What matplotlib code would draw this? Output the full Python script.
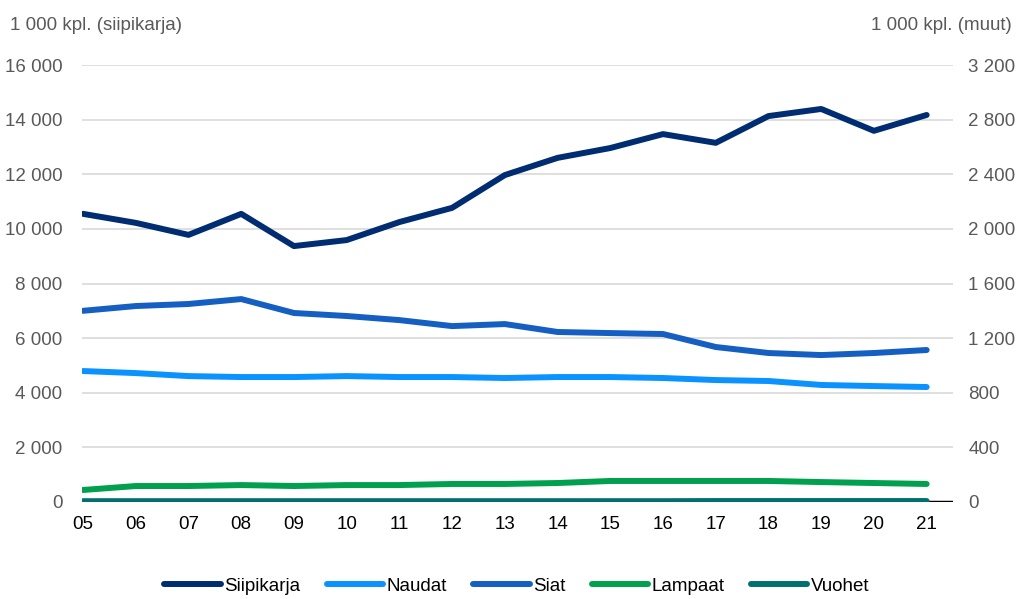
import matplotlib.pyplot as plt
from matplotlib.ticker import FuncFormatter

plt.rcParams['font.family'] = ['Liberation Sans Narrow', 'Liberation Sans', 'DejaVu Sans']

years = ['05', '06', '07', '08', '09', '10', '11', '12', '13', '14',
         '15', '16', '17', '18', '19', '20', '21']

# 1 000 kpl, vasen akseli
siipikarja = [10550, 10220, 9780, 10550, 9370, 9590, 10250, 10770, 11970,
              12600, 12960, 13470, 13150, 14130, 14390, 13590, 14170]

# 1 000 kpl, oikea akseli
naudat = [959, 944, 922, 915, 915, 922, 915, 915, 908, 915, 915, 908, 893,
          886, 857, 849, 842]
siat = [1400, 1435, 1450, 1486, 1384, 1362, 1332, 1288, 1303, 1245, 1237,
        1230, 1135, 1091, 1076, 1091, 1113]
lampaat = [88, 117, 117, 124, 117, 124, 124, 132, 132, 139, 154, 154, 154,
           154, 146, 139, 132]
vuohet = [6, 6, 6, 6, 6, 6, 6, 6, 6, 6, 6, 6, 7, 7, 7, 7, 7]

colors = {
    'Siipikarja': '#002D72',
    'Naudat': '#0A93FF',
    'Siat': '#155FC3',
    'Lampaat': '#00A04E',
    'Vuohet': '#00706E',
}

def thousands(v, pos):
    return f'{int(v):,}'.replace(',', ' ')

fig = plt.figure(figsize=(10.19, 5.99), dpi=100)
ax = fig.add_axes([82 / 1019, 1 - 502 / 599, (953 - 82) / 1019, (502 - 65) / 599])
ax2 = ax.twinx()
ax2.set_zorder(ax.get_zorder() + 1)
ax2.patch.set_visible(False)

x = list(range(len(years)))
lw = 4.3
ax.axhline(0, color='black', lw=2.5, zorder=1)
ax.plot(x, siipikarja, color=colors['Siipikarja'], lw=lw, solid_capstyle='round',
        label='Siipikarja', zorder=5)
ax2.plot(x, naudat, color=colors['Naudat'], lw=lw, solid_capstyle='round', label='Naudat')
ax2.plot(x, siat, color=colors['Siat'], lw=lw, solid_capstyle='round', label='Siat')
ax2.plot(x, lampaat, color=colors['Lampaat'], lw=lw, solid_capstyle='round', label='Lampaat')
ax2.plot(x, vuohet, color=colors['Vuohet'], lw=lw, solid_capstyle='round', label='Vuohet')

ax.set_xlim(-0.02, 16.5)
ax.set_ylim(0, 16000)
ax2.set_ylim(0, 3200)
ax.set_yticks(range(0, 16001, 2000))
ax2.set_yticks(range(0, 3201, 400))
ax.yaxis.set_major_formatter(FuncFormatter(thousands))
ax2.yaxis.set_major_formatter(FuncFormatter(thousands))
ax.set_xticks(x)
ax.set_xticklabels(years)

ax.grid(axis='y', color='#D9D9D9', lw=1.2)
ax.set_axisbelow(True)
for a in (ax, ax2):
    for s in a.spines.values():
        s.set_visible(False)
    a.tick_params(length=0, labelsize=13.5, colors='#595959')
ax.tick_params(axis='x', pad=10, labelcolor='black')
ax.tick_params(axis='y', pad=14)
ax2.tick_params(axis='y', pad=11)

fig.text(10 / 1019, 1 - 26 / 599, '1 000 kpl. (siipikarja)', fontsize=13.5,
         color='#595959', va='center', ha='left')
fig.text(1012 / 1019, 1 - 26 / 599, '1 000 kpl. (muut)', fontsize=13.5,
         color='#595959', va='center', ha='right')

h1, l1 = ax.get_legend_handles_labels()
h2, l2 = ax2.get_legend_handles_labels()
fig.legend(h1 + h2, l1 + l2, loc='center', bbox_to_anchor=(517 / 1019, 1 - 586 / 599),
           ncol=5, frameon=False, fontsize=13.5, handlelength=3.0, handletextpad=0.2,
           columnspacing=1.4)

fig.savefig('out.png', dpi=100)
